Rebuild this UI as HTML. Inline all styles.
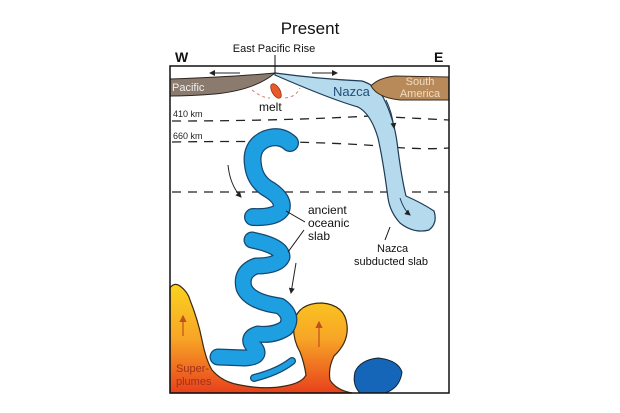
<!DOCTYPE html>
<html><head><meta charset="utf-8"><style>
html,body{margin:0;padding:0;background:#fff;}
svg{display:block;font-family:"Liberation Sans",Arial,sans-serif;}
</style></head><body>
<svg width="620" height="413" viewBox="0 0 620 413" xmlns="http://www.w3.org/2000/svg">
<defs>
<linearGradient id="pl" x1="0" y1="0" x2="0" y2="1" gradientUnits="objectBoundingBox">
<stop offset="0" stop-color="#fbd21f"/><stop offset="0.5" stop-color="#f7a526"/><stop offset="1" stop-color="#e8401c"/>
</linearGradient>
<marker id="ah" markerWidth="6" markerHeight="6" refX="5" refY="3" orient="auto"><path d="M0,0 L6,3 L0,6 z" fill="#222"/></marker>
<marker id="ao" markerWidth="6" markerHeight="6" refX="5" refY="3" orient="auto"><path d="M0,0 L6,3 L0,6 z" fill="#c05020"/></marker>
</defs>
<text x="310" y="34" font-size="17" text-anchor="middle" fill="#111">Present</text>
<text x="175" y="62" font-size="14" font-weight="bold" fill="#111">W</text>
<text x="434" y="62" font-size="14" font-weight="bold" fill="#111">E</text>
<text x="274" y="52" font-size="11" text-anchor="middle" fill="#111">East Pacific Rise</text>
<line x1="275" y1="55" x2="275" y2="73" stroke="#111" stroke-width="1"/>
<path d="M170,393 L170,288 Q174,282 180,286 Q188,292 190,300 Q198,320 202,340 Q206,360 212,370 Q222,382 240,385 Q265,390 285,386 Q302,383 306,375 Q304,362 300,352 Q292,338 294,322 Q298,303 322,303 Q345,305 347,325 Q349,342 334,356 Q328,368 330,380 Q336,390 352,393 Z" fill="url(#pl)" stroke="#3a2a10" stroke-width="1.2"/>
<line x1="183" y1="336" x2="183" y2="316" stroke="#c05020" stroke-width="1.2" marker-end="url(#ao)"/>
<line x1="319" y1="347" x2="319" y2="322" stroke="#c05020" stroke-width="1.2" marker-end="url(#ao)"/>
<text x="176" y="372" font-size="11" fill="#a0301a">Super-</text>
<text x="176" y="385" font-size="11" fill="#a0301a">plumes</text>
<path d="M355,372 Q360,360 378,358 Q398,360 402,372 Q400,388 385,393 L360,393 Q352,385 355,372 Z" fill="#1566b8" stroke="#123" stroke-width="1"/>
<g stroke="#222" stroke-width="1.3" stroke-dasharray="9,7" fill="none">
<path d="M172,121 Q280,121 370,116 Q410,118 449,120"/>
<path d="M172,142 Q300,140 380,146 Q420,150 449,148"/>
<path d="M172,192 L449,192"/>
</g>
<text x="173" y="117" font-size="9" fill="#222">410 km</text>
<text x="173" y="139" font-size="9" fill="#222">660 km</text>
<g fill="none" stroke-linecap="round" stroke-linejoin="round">
<path d="M290,143 Q280,134 266,139 Q250,146 253,165 Q255,182 270,190 Q285,200 281,210 Q275,218 253,217" stroke="#16476e" stroke-width="18"/>
<path d="M290,143 Q280,134 266,139 Q250,146 253,165 Q255,182 270,190 Q285,200 281,210 Q275,218 253,217" stroke="#1e9fe2" stroke-width="15.5"/>
<path d="M252,240 Q282,246 282,257 Q278,266 256,266 Q240,272 244,288 Q250,302 280,306 Q294,316 286,328 Q274,336 258,334 Q245,338 255,348 Q262,357 245,358 L218,357" stroke="#16476e" stroke-width="17"/>
<path d="M252,240 Q282,246 282,257 Q278,266 256,266 Q240,272 244,288 Q250,302 280,306 Q294,316 286,328 Q274,336 258,334 Q245,338 255,348 Q262,357 245,358 L218,357" stroke="#1e9fe2" stroke-width="14.5"/>
<path d="M254,378 Q278,372 292,361" stroke="#16476e" stroke-width="8"/>
<path d="M254,378 Q278,372 292,361" stroke="#1e9fe2" stroke-width="5.5"/>
</g>
<path d="M228,165 Q230,185 241,197" fill="none" stroke="#222" stroke-width="1" marker-end="url(#ah)"/>
<line x1="296" y1="263" x2="291" y2="293" stroke="#222" stroke-width="1" marker-end="url(#ah)"/>
<text x="308" y="214" font-size="12" fill="#111">ancient</text>
<text x="308" y="227" font-size="12" fill="#111">oceanic</text>
<text x="308" y="240" font-size="12" fill="#111">slab</text>
<line x1="305" y1="222" x2="286" y2="211" stroke="#111" stroke-width="1"/>
<line x1="304" y1="230" x2="288" y2="252" stroke="#111" stroke-width="1"/>
<path d="M275,73 Q320,79 362,81 Q375,85 383,97 Q395,120 398,150 Q402,180 406,196 Q422,203 434,211 Q438,223 429,230 Q414,234 400,223 Q390,212 388,198 Q383,160 378,138 Q371,114 358,107 Q330,99 275,75 Z" fill="#b5daee" stroke="#1d3c55" stroke-width="1.2"/>
<path d="M386,100 Q392,112 394,128" fill="none" stroke="#1d3c55" stroke-width="1" marker-end="url(#ah)"/>
<path d="M400,198 Q404,210 410,215" fill="none" stroke="#1d3c55" stroke-width="1" marker-end="url(#ah)"/>
<text x="333" y="96" font-size="13" fill="#1d4f78">Nazca</text>
<line x1="390" y1="227" x2="385" y2="240" stroke="#111" stroke-width="1"/>
<text x="377" y="252" font-size="11" fill="#111">Nazca</text>
<text x="354" y="265" font-size="11" fill="#111">subducted slab</text>
<path d="M170,79 Q230,77 275,73 Q255,90 215,94 Q190,96 170,96 Z" fill="#8b7b6f" stroke="#2b2520" stroke-width="1"/>
<text x="172" y="91" font-size="11" fill="#eee">Pacific</text>
<path d="M449,77 L395,76 Q378,78 371,86 Q378,98 400,100 L449,100 Z" fill="#b88a5a" stroke="#3a2a18" stroke-width="1"/>
<text x="420" y="85" font-size="11" fill="#f0dcc0" text-anchor="middle">South</text>
<text x="420" y="97" font-size="11" fill="#f0dcc0" text-anchor="middle">America</text>
<ellipse cx="276" cy="91" rx="4" ry="8" transform="rotate(-30 276 91)" fill="#e85a2a" stroke="#a03010" stroke-width="0.8"/>
<path d="M252,90 Q262,98 270,98 M285,98 Q296,97 300,88" fill="none" stroke="#d08070" stroke-width="1" stroke-dasharray="3,3"/>
<text x="259" y="111" font-size="12" fill="#111">melt</text>
<line x1="240" y1="73" x2="210" y2="73" stroke="#222" stroke-width="1" marker-end="url(#ah)"/>
<line x1="312" y1="73" x2="337" y2="73" stroke="#222" stroke-width="1" marker-end="url(#ah)"/>
<rect x="170" y="66" width="279" height="327" fill="none" stroke="#111" stroke-width="1.5"/>
</svg>
</body></html>
